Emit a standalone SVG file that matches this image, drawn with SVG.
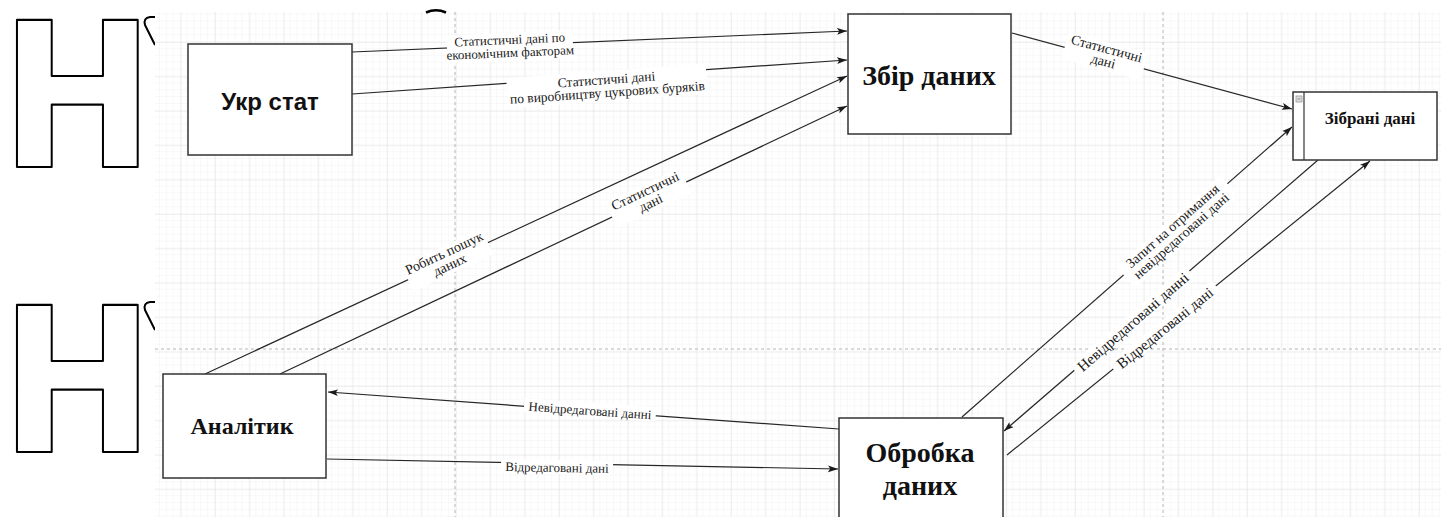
<svg xmlns="http://www.w3.org/2000/svg" width="1441" height="517" viewBox="0 0 1441 517">
  <style>
    .box { fill: #ffffff; stroke: #333333; stroke-width: 1.5; }
    .edge { fill: none; stroke: #262626; stroke-width: 1.2; }
    .arrow { marker-end: url(#arr); }
    .lblbg { fill: #ffffff; }
    .lbl { font-family: "Liberation Serif", "Times New Roman", serif; fill: #1a1a1a; text-anchor: middle; }
    .title { font-family: "Liberation Serif", "Times New Roman", serif; font-weight: bold; fill: #111111; text-anchor: middle; }
    .titleSans { font-family: "Liberation Sans", Arial, sans-serif; font-weight: bold; fill: #111111; text-anchor: middle; }
    .page { stroke: #b5b5b5; stroke-width: 1; stroke-dasharray: 3 3; fill: none; }
    .logo { font-family: "DejaVu Sans", sans-serif; font-weight: bold; font-size: 201px; fill: #ffffff; stroke: #000000; stroke-width: 2.2; stroke-linejoin: round; }
    .stroke-frag { fill: none; stroke: #000000; stroke-width: 2; stroke-linejoin: round; }
  </style>
  <defs>
    <marker id="arr" markerUnits="userSpaceOnUse" markerWidth="11" markerHeight="9" refX="10" refY="4" orient="auto">
      <path d="M0,0.6 L10,4 L0,7.4 L2.2,4 Z" fill="#1a1a1a"/>
    </marker>
    <pattern id="gridMinor" patternUnits="userSpaceOnUse" x="8.6" y="7.6" width="6.88" height="6.88">
      <path d="M6.88,0 V6.88 M0,6.88 H6.88" stroke="#f1f1f1" stroke-width="1" fill="none"/>
    </pattern>
    <pattern id="gridMajor" patternUnits="userSpaceOnUse" x="8.6" y="7.6" width="34.4" height="34.4">
      <path d="M0,0 V34.4 M0,0 H34.4" stroke="#e2e2e2" stroke-width="1" fill="none"/>
    </pattern>
  </defs>

  <!-- page background -->
  <rect x="0" y="0" width="1441" height="517" fill="#ffffff"/>

  <!-- outlined lettering at the left margin -->
  <g id="logo-top">
    <text class="logo" x="0" y="167" transform="scale(0.92,1)">Н</text>
    <path class="stroke-frag" d="M155,45 L145,25 Q143,18 150,17 L155,17"/>
  </g>
  <g id="logo-bottom">
    <text class="logo" x="0" y="452" transform="scale(0.92,1)">Н</text>
    <path class="stroke-frag" d="M155,330 L145,310 Q143,303 150,302 L155,302"/>
  </g>

  <!-- canvas with grid -->
  <g id="canvas">
    <rect x="155" y="12" width="1286" height="505" fill="#ffffff"/>
    <rect x="155" y="12" width="1286" height="505" fill="url(#gridMinor)"/>
    <rect x="155" y="12" width="1286" height="505" fill="url(#gridMajor)"/>
    <line class="page" x1="455" y1="12" x2="455" y2="517"/>
    <line class="page" x1="1163" y1="12" x2="1163" y2="517"/>
    <line class="page" x1="155" y1="349" x2="1441" y2="349"/>
    <path d="M426,12.5 Q436,8 446,12.5" fill="none" stroke="#000000" stroke-width="2.5"/>
  </g>

  <!-- connectors with their labels -->
  <g id="connectors">
    <g id="e-ukrstat-zbir-1">
      <line class="edge arrow" x1="352" y1="52" x2="847" y2="31"/>
      <g transform="translate(510,46) rotate(-2.5)">
        <rect class="lblbg" x="-63" y="-13" width="126" height="28"/>
        <text class="lbl" font-size="13" y="-2">Статистичні дані по</text>
        <text class="lbl" font-size="13" y="11">економічним факторам</text>
      </g>
    </g>
    <g id="e-ukrstat-zbir-2">
      <line class="edge arrow" x1="352" y1="94" x2="847" y2="60"/>
      <g transform="translate(607,87) rotate(-4)">
        <rect class="lblbg" x="-100" y="-16" width="200" height="30"/>
        <text class="lbl" font-size="13.5" y="-3">Статистичні дані</text>
        <text class="lbl" font-size="13.5" y="10">по виробництву цукрових буряків</text>
      </g>
    </g>
    <g id="e-analityk-zbir-search">
      <line class="edge arrow" x1="205" y1="374" x2="847" y2="76"/>
      <g transform="translate(447,259) rotate(-25)">
        <rect class="lblbg" x="-44" y="-13" width="88" height="28"/>
        <text class="lbl" font-size="14" y="-2">Робить пошук</text>
        <text class="lbl" font-size="14" y="11">даних</text>
      </g>
    </g>
    <g id="e-analityk-zbir-stat">
      <line class="edge arrow" x1="280" y1="374" x2="847" y2="106"/>
      <g transform="translate(648,197) rotate(-25.3)">
        <rect class="lblbg" x="-41" y="-13" width="82" height="28"/>
        <text class="lbl" font-size="14" y="-2">Статистичні</text>
        <text class="lbl" font-size="14" y="11">дані</text>
      </g>
    </g>
    <g id="e-zbir-zibrani">
      <line class="edge arrow" x1="1012" y1="33" x2="1292" y2="109"/>
      <g transform="translate(1105,55) rotate(15.1)">
        <rect class="lblbg" x="-41" y="-13" width="82" height="28"/>
        <text class="lbl" font-size="14" y="-2">Статистичні</text>
        <text class="lbl" font-size="14" y="11">дані</text>
      </g>
    </g>
    <g id="e-obrobka-zibrani-request">
      <line class="edge arrow" x1="962" y1="417" x2="1292" y2="127"/>
      <g transform="translate(1177,231) rotate(-41.4)">
        <rect class="lblbg" x="-69" y="-13" width="138" height="28"/>
        <text class="lbl" font-size="14" y="-2">Запит на отримання</text>
        <text class="lbl" font-size="14" y="11">невідредаговані дані</text>
      </g>
    </g>
    <g id="e-zibrani-obrobka">
      <line class="edge arrow" x1="1318" y1="160" x2="1004" y2="431"/>
      <g transform="translate(1133,322) rotate(-41)">
        <rect class="lblbg" x="-76" y="-8" width="152" height="15"/>
        <text class="lbl" font-size="15" y="5">Невідредаговані данні</text>
      </g>
    </g>
    <g id="e-obrobka-zibrani-edited">
      <line class="edge arrow" x1="1007" y1="455" x2="1370" y2="161"/>
      <g transform="translate(1165,328) rotate(-39)">
        <rect class="lblbg" x="-66" y="-8" width="132" height="15"/>
        <text class="lbl" font-size="15" y="5">Відредаговані дані</text>
      </g>
    </g>
    <g id="e-obrobka-analityk">
      <line class="edge arrow" x1="839" y1="429" x2="328" y2="392"/>
      <g transform="translate(590,410) rotate(4)">
        <rect class="lblbg" x="-66" y="-7" width="132" height="14"/>
        <text class="lbl" font-size="13" y="5">Невідредаговані данні</text>
      </g>
    </g>
    <g id="e-analityk-obrobka">
      <line class="edge arrow" x1="327" y1="459" x2="838" y2="469"/>
      <g transform="translate(557,467) rotate(1)">
        <rect class="lblbg" x="-56" y="-7" width="112" height="14"/>
        <text class="lbl" font-size="13" y="5">Відредаговані дані</text>
      </g>
    </g>
  </g>

  <!-- nodes -->
  <g id="node-ukrstat">
    <rect class="box" x="188" y="44" width="164" height="111"/>
    <text class="titleSans" x="270" y="110" font-size="24">Укр стат</text>
  </g>
  <g id="node-zbir">
    <rect class="box" x="848" y="14" width="163" height="120"/>
    <text class="title" x="929" y="85" font-size="28">Збір даних</text>
  </g>
  <g id="node-zibrani">
    <rect class="box" x="1293" y="92" width="144" height="68"/>
    <line x1="1304" y1="92" x2="1304" y2="160" stroke="#333333" stroke-width="1.2"/>
    <rect x="1296" y="96" width="6" height="6" fill="#dddddd" stroke="#999999" stroke-width="0.8"/>
    <line x1="1297.5" y1="99" x2="1300.5" y2="99" stroke="#777777" stroke-width="0.8"/>
    <text class="title" x="1370" y="124" font-size="17">Зібрані дані</text>
  </g>
  <g id="node-analityk">
    <rect class="box" x="163" y="374" width="163" height="104"/>
    <text class="title" x="242" y="434" font-size="24">Аналітик</text>
  </g>
  <g id="node-obrobka">
    <rect class="box" x="839" y="418" width="164" height="110"/>
    <text class="title" x="920" y="462" font-size="28">Обробка</text>
    <text class="title" x="920" y="495" font-size="28">даних</text>
  </g>
</svg>
